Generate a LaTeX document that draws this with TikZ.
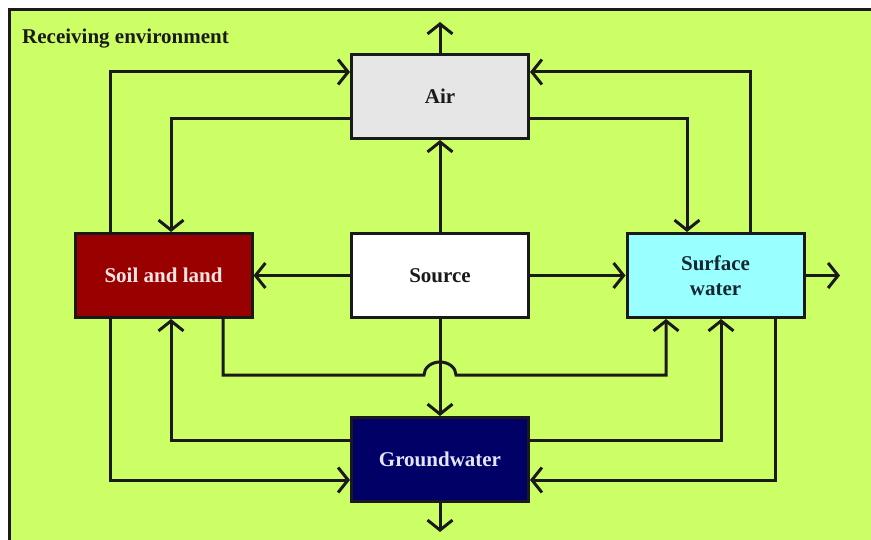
\documentclass[tikz,border=0pt]{standalone}
\usepackage{fontspec}
\setmainfont{Liberation Serif}
\usetikzlibrary{arrows.meta}
\definecolor{envgreen}{RGB}{204,255,102}
\definecolor{airgray}{RGB}{230,230,230}
\definecolor{soilred}{RGB}{153,0,0}
\definecolor{watercyan}{RGB}{153,255,255}
\definecolor{groundnavy}{RGB}{0,0,102}
\definecolor{ink}{RGB}{26,26,26}
\begin{document}
\begin{tikzpicture}[x=1pt,y=-1pt,
  flow/.style={draw=ink, line width=3pt, -{Straight Barb[length=10pt,width=25pt]}},
  link/.style={draw=ink, line width=3pt},
  box/.style={draw=ink, line width=3pt, minimum width=177pt, minimum height=84pt,
    inner sep=0pt, align=center, font=\bfseries\fontsize{21}{25}\selectfont},
  label/.style={font=\bfseries\fontsize{21}{25}\selectfont, text=ink, inner sep=0pt}
]
\useasboundingbox (0,0) rectangle (871,540);
\fill[white] (-5,-5) rectangle (880,545);
% receiving environment frame
\fill[envgreen] (9,10) rectangle (880,545);
\draw[link] (9,545) -- (9,10) -- (880,10);
\node[label, anchor=base west] (title) at (22,43.5) {Receiving environment};

% compartments
\node[box, fill=airgray, text=ink] (air) at (440,96.5) {Air};
\node[box, fill=white, text=ink] (src) at (440,275.5) {Source};
\node[box, fill=soilred, text={rgb,255:red,255;green,228;blue,228}] (soil) at (163.5,275.5) {Soil and land};
\node[box, fill=watercyan, text={rgb,255:red,20;green,40;blue,50}] (sw) at (715.5,275.5) {Surface\\water};
\node[box, fill=groundnavy, text={rgb,255:red,228;green,228;blue,255}] (gw) at (440,459.5) {Groundwater};

% routing guides
\coordinate (xA) at (110,0);
\coordinate (xB) at (171,0);
\coordinate (xC) at (223,0);
\coordinate (xD) at (666,0);
\coordinate (xE) at (721,0);
\coordinate (xF) at (687,0);
\coordinate (xG) at (750,0);
\coordinate (xH) at (775,0);
\coordinate (yT) at (0,72);
\coordinate (yU) at (0,119);
\coordinate (yM) at (0,440);
\coordinate (yL) at (0,480);
\coordinate (hopL) at (424,375);

% releases leaving the environment
\coordinate (airout) at (440,22);
\coordinate (gwout) at (440,532);
\coordinate (swout) at (840,275.5);
\draw[flow] (air.north) -- (airout);
\draw[flow] (gw.south) -- (gwout);
\draw[flow] (sw.east) -- (swout);

% from the source
\draw[flow] (src.north) -- (air.south);
\draw[flow] (src.west) -- (soil.east);
\draw[flow] (src.east) -- (sw.west);
\draw[flow] (src.south) -- (gw.north);

% soil and land
\draw[flow] (soil.north -| xA) |- (air.west |- yT);
\draw[flow] (soil.south -| xA) |- (gw.west |- yL);
\draw[flow] (soil.south -| xC) |- (hopL)
  arc[start angle=180, end angle=0, x radius=16pt, y radius=13pt]
  -| (sw.south -| xD);

% air
\draw[flow] (air.west |- yU) -| (soil.north -| xB);
\draw[flow] (air.east |- yU) -| (sw.north -| xF);

% surface water
\draw[flow] (sw.north -| xG) |- (air.east |- yT);
\draw[flow] (sw.south -| xH) |- (gw.east |- yL);

% groundwater
\draw[flow] (gw.west |- yM) -| (soil.south -| xB);
\draw[flow] (gw.east |- yM) -| (sw.south -| xE);
\end{tikzpicture}
\end{document}
